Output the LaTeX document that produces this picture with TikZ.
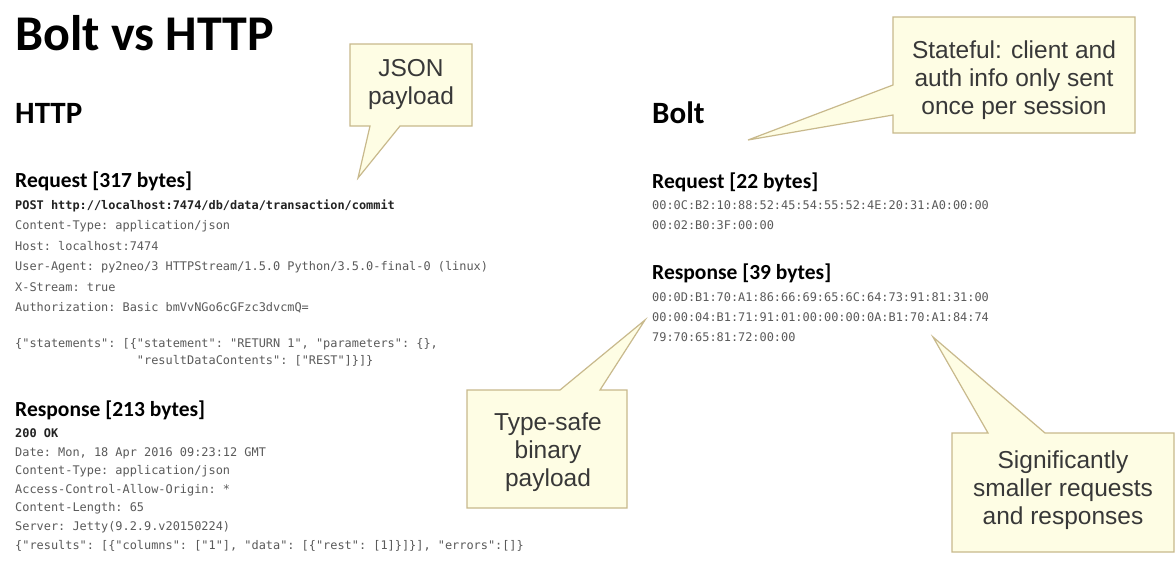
\documentclass[tikz,border=0pt]{standalone}
\usepackage{fontspec}
\setmainfont{Liberation Sans}
\setmonofont{DejaVu Sans Mono}
\newfontfamily\headfont{Carlito}

\definecolor{codegrey}{HTML}{5A5A5A}
\definecolor{codedark}{HTML}{222222}
\definecolor{calloutfill}{HTML}{FEFDE4}
\definecolor{calloutline}{HTML}{C8B98C}
\definecolor{callouttxt}{HTML}{383838}

\begin{document}
\begin{tikzpicture}[x=1pt, y=-1pt,
  title/.style={anchor=base west, inner sep=0pt, font=\headfont\bfseries\fontsize{50}{56}\selectfont},
  section/.style={anchor=base west, inner sep=0pt, font=\headfont\bfseries\fontsize{31}{36}\selectfont},
  msghead/.style={anchor=base west, inner sep=0pt, font=\headfont\bfseries\fontsize{21.5}{25}\selectfont},
  code/.style={anchor=base west, inner sep=0pt, text=codegrey, font=\ttfamily\fontsize{11.9}{14}\selectfont},
  codebold/.style={code, text=codedark, font=\ttfamily\bfseries\fontsize{11.9}{14}\selectfont},
  calloutbox/.style={fill=calloutfill, draw=calloutline, line width=1.2pt, line join=miter},
  callouttext/.style={align=center, inner sep=0pt, text=callouttxt, font=\fontsize{24.5}{28}\selectfont}
]
\useasboundingbox[fill=white] (0,0) rectangle (1176,568);

% heading
\node[title] (title) at (15,50) {Bolt vs HTTP};

% ---- HTTP column ----
\node[section] (http) at (15,123) {HTTP};
\node[msghead] (httpreq) at (15,187) {Request [317 bytes]};
\node[codebold] (r1) at (15,209)   {POST http://localhost:7474/db/data/transaction/commit};
\node[code] (r2) at (15,229.5)     {Content-Type: application/json};
\node[code] (r3) at (15,250)       {Host: localhost:7474};
\node[code] (r4) at (15,270.5)     {User-Agent: py2neo/3 HTTPStream/1.5.0 Python/3.5.0-final-0 (linux)};
\node[code] (r5) at (15,291)       {X-Stream: true};
\node[code] (r6) at (15,311.5)     {Authorization: Basic bmVvNGo6cGFzc3dvcmQ=};
\node[code] (r7) at (15,347)       {\{"statements": [\{"statement": "RETURN 1", "parameters": \{\},};
\node[code] (r8) at (15,364)       {\hspace*{17\fontcharwd\font`0}"resultDataContents": ["REST"]\}]\}};

\node[msghead] (httpresp) at (15,416) {Response [213 bytes]};
\node[codebold] (s1) at (15,437)  {200 OK};
\node[code] (s2) at (15,456)      {Date: Mon, 18 Apr 2016 09:23:12 GMT};
\node[code] (s3) at (15,474.5)    {Content-Type: application/json};
\node[code] (s4) at (15,493)      {Access-Control-Allow-Origin: *};
\node[code] (s5) at (15,511.5)    {Content-Length: 65};
\node[code] (s6) at (15,530)      {Server: Jetty(9.2.9.v20150224)};
\node[code] (s7) at (15,549)      {\{"results": [\{"columns": ["1"], "data": [\{"rest": [1]\}]\}], "errors":[]\}};

% ---- Bolt column ----
\node[section] (bolt) at (652,123) {Bolt};
\node[msghead] (boltreq) at (652,188) {Request [22 bytes]};
\node[code] (b1) at (652,209) {00:0C:B2:10:88:52:45:54:55:52:4E:20:31:A0:00:00};
\node[code] (b2) at (652,229) {00:02:B0:3F:00:00};
\node[msghead] (boltresp) at (652,279) {Response [39 bytes]};
\node[code] (c1) at (652,301) {00:0D:B1:70:A1:86:66:69:65:6C:64:73:91:81:31:00};
\node[code] (c2) at (652,321) {00:00:04:B1:71:91:01:00:00:00:0A:B1:70:A1:84:74};
\node[code] (c3) at (652,341) {79:70:65:81:72:00:00};

% ---- callouts ----
\path[calloutbox] (350,44) -- (472,44) -- (472,126) -- (400,126)
  -- (358,178) -- (370,126) -- (350,126) -- cycle;
\node[callouttext] (json) at (411,84) {JSON\\payload};

\path[calloutbox] (893,17) -- (1135,17) -- (1135,133) -- (893,133)
  -- (893,115) -- (748,140) -- (893,85) -- cycle;
\node[callouttext] (state) at (1014,80) {Stateful: client and\\auth info only sent\\once per session};

\path[calloutbox] (467,390) -- (560,390) -- (645,320) -- (600,390)
  -- (627,390) -- (627,508) -- (467,508) -- cycle;
\node[callouttext] (binary) at (548,452) {Type-safe\\binary\\payload};

\path[calloutbox] (952,433) -- (988,433) -- (933,337) -- (1045,433)
  -- (1174,433) -- (1174,552) -- (952,552) -- cycle;
\node[callouttext] (smaller) at (1063,490) {Significantly\\smaller requests\\and responses};
\end{tikzpicture}
\end{document}
